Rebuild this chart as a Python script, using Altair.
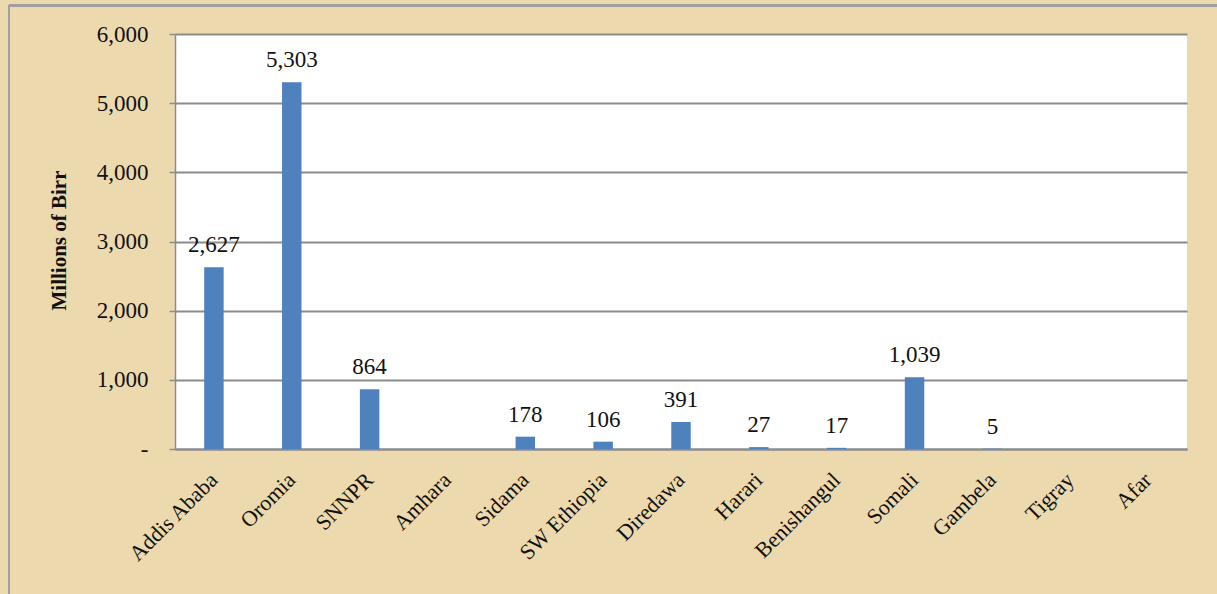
import altair as alt
import pandas as pd

regions = ["Addis Ababa", "Oromia", "SNNPR", "Amhara", "Sidama", "SW Ethiopia",
           "Diredawa", "Harari", "Benishangul", "Somali", "Gambela", "Tigray", "Afar"]
values = [2627, 5303, 864, None, 178, 106, 391, 27, 17, 1039, 5, None, None]
y_ticks = [0, 1000, 2000, 3000, 4000, 5000, 6000]

df = pd.DataFrame({"region": regions, "value": values})

FONT = "Liberation Serif"
W, H = 1012, 415
PAD_L, PAD_T = 175, 34

x_enc = alt.X("region:N", sort=regions, title=None,
              scale=alt.Scale(paddingInner=0.75, paddingOuter=0.375),
              axis=alt.Axis(labelAngle=-45, labelAlign="right", labelBaseline="middle",
                            labelPadding=27, ticks=False, domainColor="#8c8c8c",
                            domainWidth=2, labelFont=FONT, labelFontSize=22,
                            labelColor="#111111", grid=False))
y_enc = alt.Y("value:Q", title="Millions of Birr",
              scale=alt.Scale(domain=[0, 6000], nice=False),
              axis=alt.Axis(values=y_ticks,
                            labelExpr="datum.value == 0 ? '-\u00a0\u00a0\u00a0' : format(datum.value, ',')",
                            labelFont=FONT, labelFontSize=23, labelColor="#111111",
                            labelPadding=21, tickSize=6, tickColor="#8c8c8c", tickWidth=1.5,
                            domainColor="#8c8c8c", domainWidth=1.5,
                            gridColor="#8c8c8c", gridWidth=1.8,
                            titleFont=FONT, titleFontSize=21, titleFontWeight="bold",
                            titleColor="#111111", titleAngle=-90, titleAlign="center",
                            titleBaseline="alphabetic", titleX=-110, titleY=206))

base = alt.Chart(df)
bars = base.mark_bar(color="#4F81BD").encode(x=x_enc, y=y_enc)
labels = base.transform_filter("datum.value != null").mark_text(
    font=FONT, fontSize=23, color="#111111", baseline="alphabetic", dy=-15
).encode(x=alt.X("region:N", sort=regions), y="value:Q",
         text=alt.Text("value:Q", format=","))

border_top = alt.Chart(df).mark_rule(color="#a0a0a0", strokeWidth=1.5).encode(
    x=alt.value(9 - PAD_L), x2=alt.value(1217 - PAD_L), y=alt.value(5.5 - PAD_T))
border_left = alt.Chart(df).mark_rule(color="#a0a0a0", strokeWidth=1.5).encode(
    x=alt.value(9 - PAD_L), y=alt.value(5.5 - PAD_T), y2=alt.value(594 - PAD_T))

chart = alt.layer(bars, labels, border_top, border_left).properties(
    width=W, height=H,
    autosize=alt.AutoSizeParams(type="none"),
    padding={"left": PAD_L, "top": PAD_T, "right": 1217 - PAD_L - W, "bottom": 594 - PAD_T - H},
    background="#ECD9AE",
).configure(font=FONT).configure_text(font=FONT).configure_view(fill="white", stroke=None)

chart.save("out.html", embed_options={"renderer": "svg", "actions": False})
